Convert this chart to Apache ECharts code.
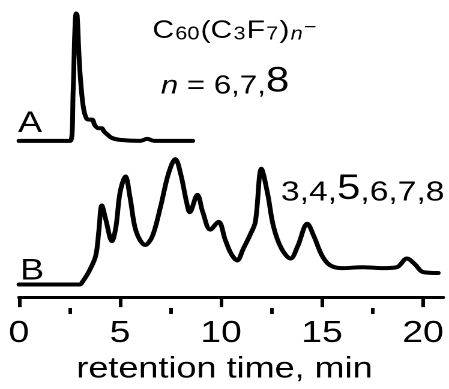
<!DOCTYPE html>
<html><head><meta charset="utf-8">
<script src="https://cdn.jsdelivr.net/npm/echarts@6/dist/echarts.min.js"></script>
<style>
html,body{margin:0;padding:0;background:#fff;overflow:hidden}
#wrap{width:449px;height:389px;overflow:hidden;position:relative}
#chart{width:374px;height:389px;transform:scaleX(1.2005);transform-origin:0 0}
</style></head><body><div id="wrap"><div id="chart"></div></div>
<script>
// Trace A: retention time (min) and detector signal (arbitrary units, incl. vertical offset)
const timesA = [0, 2.55, 2.68, 2.76, 2.83, 2.88, 2.95, 3.02, 3.12, 3.22, 3.35, 3.5, 3.62, 3.76, 3.95, 4.1, 4.2, 4.35, 4.6, 5.0, 6.0, 6.35, 6.7, 8.6];
const signalA = [164, 164, 215, 275, 296, 294, 262, 235, 210, 195, 187, 186, 186, 180, 177, 177, 174, 171, 167, 165, 164, 166, 164, 164];
// Trace B
const timesB = [0, 3.0, 3.15, 3.5, 3.8, 3.95, 4.1, 4.3, 4.6, 4.8, 5.0, 5.27, 5.5, 5.8, 6.25, 6.6, 7.0, 7.4, 7.74, 8.0, 8.3, 8.45, 8.83, 9.1, 9.47, 9.88, 10.2, 10.5, 10.8, 11.1, 11.45, 11.7, 12.0, 12.3, 12.6, 13.0, 13.44, 13.8, 14.27, 14.6, 15.0, 15.4, 16.0, 17.0, 18.0, 18.7, 19.2, 19.6, 20.0, 20.75];
const signalB = [15, 15, 18, 30, 45, 70, 97, 82, 60, 75, 110, 127, 105, 70, 56, 65, 95, 130, 145, 130, 100, 90, 108, 90, 72, 80, 62, 47, 40, 52, 67, 80, 135, 110, 75, 52, 42, 55, 78, 65, 45, 35, 32, 33, 32, 33, 42, 36, 28, 27];
const majorTicks = [0, 5, 10, 15, 20];
const minorTicks = [2.5, 7.5, 12.5, 17.5];
const xName = 'retention time, min';

const FONT = 'Liberation Sans, Arial, sans-serif';
const chart = echarts.init(document.getElementById('chart'), null, {renderer: 'canvas', devicePixelRatio: 2});
const gridBox = {left: 15.8, right: 4.8, top: 0, bottom: 81};
const lineStyle = {color: '#000', width: 4, cap: 'round', join: 'round'};

chart.setOption({
  animation: false,
  backgroundColor: '#fff',
  grid: [Object.assign({}, gridBox), Object.assign({}, gridBox)],
  xAxis: [{
    type: 'value', gridIndex: 0, min: 0, max: 21, interval: 5,
    axisLine: {show: true, onZero: false, lineStyle: {color: '#000', width: 3}},
    axisTick: {show: true, length: 10, customValues: majorTicks, lineStyle: {color: '#000', width: 3}},
    axisLabel: {show: true, customValues: majorTicks, fontSize: 31, color: '#000', fontFamily: FONT, margin: 21},
    splitLine: {show: false},
    name: xName, nameLocation: 'middle', nameGap: 51,
    nameTextStyle: {fontSize: 30, color: '#000', fontFamily: FONT, padding: [0, 11, 0, 0]}
  }, {
    type: 'value', gridIndex: 1, min: 0, max: 21, position: 'bottom',
    axisLine: {show: false},
    axisTick: {show: true, length: 6, customValues: minorTicks, lineStyle: {color: '#000', width: 3}},
    axisLabel: {show: false},
    splitLine: {show: false}
  }],
  yAxis: [
    {type: 'value', gridIndex: 0, min: 2, max: 310, show: false},
    {type: 'value', gridIndex: 1, min: 2, max: 310, show: false}
  ],
  series: [
    {type: 'line', xAxisIndex: 0, yAxisIndex: 0, data: timesA.map((t, i) => [t, signalA[i]]),
     showSymbol: false, symbol: 'none', smooth: 0.35, clip: false, lineStyle: lineStyle},
    {type: 'line', xAxisIndex: 0, yAxisIndex: 0, data: timesB.map((t, i) => [t, signalB[i]]),
     showSymbol: false, symbol: 'none', smooth: 0.35, clip: false, lineStyle: lineStyle}
  ],
  graphic: [
    {type: 'text', style: {text: 'A', x: 15, y: 123.5, fontSize: 30, fontFamily: FONT, fill: '#000', verticalAlign: 'middle'}},
    {type: 'text', style: {text: 'B', x: 16.7, y: 271, fontSize: 30, fontFamily: FONT, fill: '#000', verticalAlign: 'middle'}},
    {type: 'text', style: {
      text: '{b|C}{s|60}{b|(C}{s|3}{b|F}{s|7}{b|)}{si|n}{sup|−}',
      x: 127, y: 18.5, verticalAlign: 'top', fill: '#000',
      rich: {
        b: {fontSize: 25, lineHeight: 25, fontFamily: FONT, fill: '#000'},
        s: {fontSize: 18, lineHeight: 12, verticalAlign: 'bottom', fontFamily: FONT, fill: '#000', padding: [0, 1, 0, 1]},
        si: {fontSize: 18, lineHeight: 12, verticalAlign: 'bottom', fontStyle: 'italic', fontFamily: FONT, fill: '#000', padding: [0, 1, 0, 1]},
        sup: {fontSize: 18, lineHeight: 12, verticalAlign: 'top', fontFamily: FONT, fill: '#000'}
      }
    }},
    {type: 'text', style: {
      text: '{i|n}{m| = 6,7,}{L|8}',
      x: 134, y: 99.4, verticalAlign: 'bottom', fill: '#000',
      rich: {
        i: {fontSize: 26, lineHeight: 26, verticalAlign: 'bottom', fontStyle: 'italic', fontFamily: FONT, fill: '#000'},
        m: {fontSize: 26, lineHeight: 26, verticalAlign: 'bottom', fontFamily: FONT, fill: '#000'},
        L: {fontSize: 35, lineHeight: 35, verticalAlign: 'bottom', fontFamily: FONT, fill: '#000'}
      }
    }},
    {type: 'text', style: {
      text: '{m|3,4,}{L|5}{m|,6,7,8}',
      x: 234, y: 206.8, verticalAlign: 'bottom', fill: '#000',
      rich: {
        m: {fontSize: 28, lineHeight: 28, verticalAlign: 'bottom', fontFamily: FONT, fill: '#000'},
        L: {fontSize: 35, lineHeight: 35, verticalAlign: 'bottom', fontFamily: FONT, fill: '#000'}
      }
    }}
  ]
});
</script>
</body></html>
